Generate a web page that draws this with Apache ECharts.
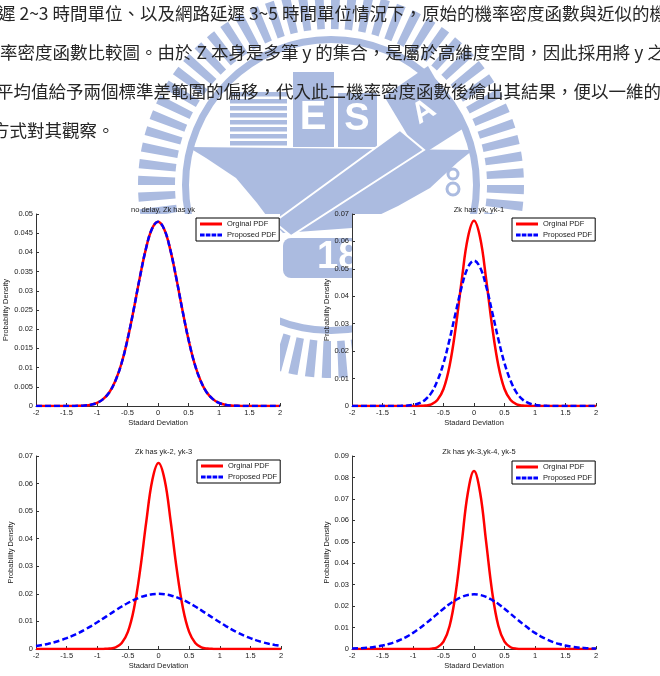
<!DOCTYPE html>
<html>
<head>
<meta charset="utf-8">
<script src="https://cdn.jsdelivr.net/npm/echarts@6/dist/echarts.min.js"></script>
<style>
html, body { margin: 0; padding: 0; background: #fff; }
#wrap { position: relative; width: 660px; height: 676px; }
#bg, #main { position: absolute; left: 0; top: 0; width: 660px; height: 676px; }
</style>
</head>
<body>
<div id="wrap">
  <div id="bg"></div>
  <div id="main"></div>
</div>
<script>
// 橫軸取樣點 (Stadard Deviation)
var xVals = [-2, -1.9, -1.8, -1.7, -1.6, -1.5, -1.4, -1.3, -1.2, -1.1, -1, -0.9, -0.8, -0.7, -0.6, -0.5, -0.4, -0.3, -0.2, -0.1, 0,
  0.1, 0.2, 0.3, 0.4, 0.5, 0.6, 0.7, 0.8, 0.9, 1, 1.1, 1.2, 1.3, 1.4, 1.5, 1.6, 1.7, 1.8, 1.9, 2];

// no delay, Zk has yk
var p1Orig = [0, 0, 0, 0, 0, 0, 0.00002, 0.00005, 0.00013, 0.00034, 0.0008, 0.0018, 0.0035, 0.0065, 0.011, 0.0173, 0.025, 0.0333, 0.0408, 0.0461, 0.048,
  0.0461, 0.0408, 0.0333, 0.025, 0.0173, 0.011, 0.0065, 0.0035, 0.0018, 0.0008, 0.00034, 0.00013, 0.00005, 0.00002, 0, 0, 0, 0, 0, 0];
var p1Prop = [0, 0, 0, 0, 0, 0, 0.00002, 0.00005, 0.00013, 0.00034, 0.0008, 0.0018, 0.0035, 0.0065, 0.011, 0.0173, 0.025, 0.0333, 0.0408, 0.0461, 0.048,
  0.0461, 0.0408, 0.0333, 0.025, 0.0173, 0.011, 0.0065, 0.0035, 0.0018, 0.0008, 0.00034, 0.00013, 0.00005, 0.00002, 0, 0, 0, 0, 0, 0];

// Zk has yk, yk-1
var p2Orig = [0, 0, 0, 0, 0, 0, 0, 0, 0, 0, 0, 0.00003, 0.00015, 0.0006, 0.0022, 0.0062, 0.0147, 0.0286, 0.0461, 0.0614, 0.0675,
  0.0614, 0.0461, 0.0286, 0.0147, 0.0062, 0.0022, 0.0006, 0.00015, 0.00003, 0, 0, 0, 0, 0, 0, 0, 0, 0, 0, 0];
var p2Prop = [0, 0, 0, 0, 0, 0, 0, 0.00001, 0.00005, 0.00014, 0.0004, 0.001, 0.0023, 0.0048, 0.0092, 0.0156, 0.0243, 0.0341, 0.0436, 0.0505, 0.053,
  0.0505, 0.0436, 0.0341, 0.0243, 0.0156, 0.0092, 0.0048, 0.0023, 0.001, 0.0004, 0.00014, 0.00005, 0.00001, 0, 0, 0, 0, 0, 0, 0];

// Zk has yk-2, yk-3
var p3Orig = [0, 0, 0, 0, 0, 0, 0, 0, 0, 0, 0, 0.00003, 0.00015, 0.0006, 0.0022, 0.0062, 0.0147, 0.0286, 0.0461, 0.0614, 0.0675,
  0.0614, 0.0461, 0.0286, 0.0147, 0.0062, 0.0022, 0.0006, 0.00015, 0.00003, 0, 0, 0, 0, 0, 0, 0, 0, 0, 0, 0];
var p3Prop = [0.0011, 0.00146, 0.00191, 0.00246, 0.00313, 0.00392, 0.00483, 0.00588, 0.00705, 0.00832, 0.00969, 0.01112, 0.01257, 0.01402, 0.01541, 0.01669, 0.01781, 0.01874, 0.01943, 0.01986, 0.02,
  0.01986, 0.01943, 0.01874, 0.01781, 0.01669, 0.01541, 0.01402, 0.01257, 0.01112, 0.00969, 0.00832, 0.00705, 0.00588, 0.00483, 0.00392, 0.00313, 0.00246, 0.00191, 0.00146, 0.0011];

// Zk has yk-3,yk-4, yk-5
var p4Orig = [0, 0, 0, 0, 0, 0, 0, 0, 0, 0, 0, 0, 0.00002, 0.00015, 0.0008, 0.0034, 0.0107, 0.0262, 0.0497, 0.073, 0.083,
  0.073, 0.0497, 0.0262, 0.0107, 0.0034, 0.0008, 0.00015, 0.00002, 0, 0, 0, 0, 0, 0, 0, 0, 0, 0, 0, 0];
var p4Prop = [0.0002, 0.0003, 0.0005, 0.0007, 0.0011, 0.0016, 0.0023, 0.0032, 0.0044, 0.0058, 0.0075, 0.0095, 0.0117, 0.014, 0.0164, 0.0188, 0.021, 0.0228, 0.0243, 0.0252, 0.0255,
  0.0252, 0.0243, 0.0228, 0.021, 0.0188, 0.0164, 0.014, 0.0117, 0.0095, 0.0075, 0.0058, 0.0044, 0.0032, 0.0023, 0.0016, 0.0011, 0.0007, 0.0005, 0.0003, 0.0002];

var titles = ['no delay, Zk has yk', 'Zk has yk, yk-1', 'Zk has yk-2, yk-3', 'Zk has yk-3,yk-4, yk-5'];
var yMaxes = [0.05, 0.07, 0.07, 0.09];
var yIntervals = [0.005, 0.01, 0.01, 0.01];
var legendNames = ['Orginal PDF', 'Proposed PDF'];

// 上方內文
var paraLines = [
  '遲 2~3 時間單位、以及網路延遲 3~5 時間單位情況下，原始的機率密度函數與近似的機',
  '率密度函數比較圖。由於 Z 本身是多筆 y 的集合，是屬於高維度空間，因此採用將 y 之',
  '平均值給予兩個標準差範圍的偏移，代入此二機率密度函數後繪出其結果，便以一維的',
  '方式對其觀察。'
];

function pairs(ys) {
  return xVals.map(function (x, i) { return [x, ys[i]]; });
}

var font = 'Liberation Sans, Arial, sans-serif';
var axisColor = '#333';

// 四個子圖的位置
var boxes = [
  { left: 36, top: 214, width: 244, height: 192, yName: 26, legend: [196, 218] },
  { left: 352, top: 214, width: 244, height: 192, yName: 21, legend: [512, 218] },
  { left: 36, top: 456, width: 245, height: 193, yName: 21, legend: [197, 460] },
  { left: 352, top: 456, width: 244, height: 193, yName: 21, legend: [512, 461] }
];
var seriesData = [[p1Orig, p1Prop], [p2Orig, p2Prop], [p3Orig, p3Prop], [p4Orig, p4Prop]];

var grids = [], xAxes = [], yAxes = [], series = [], titleOpts = [], legends = [];

boxes.forEach(function (b, i) {
  grids.push({
    left: b.left, top: b.top, width: b.width, height: b.height,
    show: true, backgroundColor: '#fff', borderWidth: 0
  });
  titleOpts.push({
    text: titles[i],
    left: b.left + b.width / 2,
    top: b.top - 13,
    textAlign: 'center',
    textStyle: { fontSize: 7.5, fontWeight: 'normal', color: '#222', fontFamily: font }
  });
  xAxes.push({
    type: 'value', gridIndex: i, min: -2, max: 2, interval: 0.5,
    showMinLabel: true, showMaxLabel: true,
    name: 'Stadard Deviation', nameLocation: 'middle', nameGap: 13,
    nameTextStyle: { fontSize: 7.5, color: '#222', fontFamily: font },
    axisLine: { onZero: false, lineStyle: { color: axisColor, width: 1 } },
    axisTick: { inside: true, length: 3, lineStyle: { color: axisColor } },
    axisLabel: { fontSize: 7.5, color: '#222', margin: 3, fontFamily: font },
    splitLine: { show: false }
  });
  yAxes.push({
    type: 'value', gridIndex: i, min: 0, max: yMaxes[i], interval: yIntervals[i],
    name: 'Probability Density', nameLocation: 'middle', nameGap: b.yName, nameRotate: 90,
    nameTextStyle: { fontSize: 7.5, color: '#222', fontFamily: font },
    axisLine: { show: true, onZero: false, lineStyle: { color: axisColor, width: 1 } },
    axisTick: { show: true, inside: true, length: 3, lineStyle: { color: axisColor } },
    axisLabel: { fontSize: 7.5, color: '#222', margin: 3, fontFamily: font },
    splitLine: { show: false }
  });
  series.push({
    name: legendNames[0], type: 'line', xAxisIndex: i, yAxisIndex: i,
    data: pairs(seriesData[i][0]), smooth: 0.4, symbol: 'none',
    lineStyle: { color: '#ff0000', width: 2.5 }, itemStyle: { color: '#ff0000' },
    z: 3
  });
  series.push({
    name: legendNames[1], type: 'line', xAxisIndex: i, yAxisIndex: i,
    data: pairs(seriesData[i][1]), smooth: 0.4, symbol: 'none',
    lineStyle: { color: '#0000ff', width: 2.5, type: [6, 3] }, itemStyle: { color: '#0000ff' },
    z: 4
  });
  legends.push({
    data: [
      { name: legendNames[0], icon: 'path://M0,0h22v3h-22z' },
      { name: legendNames[1], icon: 'path://M0,0h4.6v3h-4.6z M5.8,0h4.6v3h-4.6z M11.6,0h4.6v3h-4.6z M17.4,0h4.6v3h-4.6z' }
    ],
    orient: 'vertical', left: b.legend[0], top: b.legend[1],
    itemWidth: 22, itemHeight: 9, itemGap: 3, padding: [2, 3, 2, 4],
    backgroundColor: '#fff', borderColor: '#000', borderWidth: 1,
    textStyle: { fontSize: 7.5, color: '#222', fontFamily: font },
    selectedMode: false
  });
});

// 浮水印 (淡藍色校徽), 放在底層
var wm = '#abbbe0';
var marks = [];
var nStripe = 72;
for (var k = 0; k < nStripe; k++) {
  var a = k * 2 * Math.PI / nStripe;
  marks.push({
    type: 'sector', silent: true,
    shape: { cx: 331, cy: 185, r0: 156, r: 193, startAngle: a, endAngle: a + 0.55 * 2 * Math.PI / nStripe },
    style: { fill: wm }
  });
}
marks.push({ type: 'ring', silent: true, shape: { cx: 331, cy: 185, r0: 142, r: 149 }, style: { fill: wm } });
// 書本
for (var j = 0; j < 8; j++) {
  marks.push({ type: 'rect', silent: true, shape: { x: 230, y: 92 + j * 7, width: 57, height: 4.5 }, style: { fill: wm } });
}
marks.push({ type: 'rect', silent: true, shape: { x: 293, y: 72, width: 41, height: 75 }, style: { fill: wm } });
marks.push({ type: 'text', silent: true, x: 313, y: 118, style: { text: 'E', fill: '#fff', fontSize: 40, fontWeight: 'bold', fontFamily: font, align: 'center', verticalAlign: 'middle' } });
marks.push({ type: 'rect', silent: true, shape: { x: 338, y: 93, width: 39, height: 54 }, style: { fill: wm } });
marks.push({ type: 'text', silent: true, x: 357, y: 120, style: { text: 'S', fill: '#fff', fontSize: 38, fontWeight: 'bold', fontFamily: font, align: 'center', verticalAlign: 'middle' } });
marks.push({ type: 'polygon', silent: true, shape: { points: [[384, 96], [428, 66], [464, 128], [420, 156]] }, style: { fill: wm } });
marks.push({ type: 'text', silent: true, x: 424, y: 112, rotation: 0.55, style: { text: 'A', fill: '#fff', fontSize: 30, fontWeight: 'bold', fontFamily: font, align: 'center', verticalAlign: 'middle' } });
// 鐵砧與鎚柄
marks.push({ type: 'polygon', silent: true, shape: { points: [[188, 147], [473, 150], [458, 162], [430, 188], [398, 206], [352, 228], [283, 233], [266, 215], [257, 203], [236, 178], [206, 158]] }, style: { fill: wm } });
marks.push({ type: 'polygon', silent: true, shape: { points: [[400, 130], [424, 150], [291, 236], [274, 222]] }, style: { fill: wm, stroke: '#fff', lineWidth: 2 } });
marks.push({ type: 'circle', silent: true, shape: { cx: 453, cy: 174, r: 5 }, style: { fill: 'none', stroke: wm, lineWidth: 3 } });
marks.push({ type: 'circle', silent: true, shape: { cx: 453, cy: 189, r: 6 }, style: { fill: 'none', stroke: wm, lineWidth: 3 } });
marks.push({ type: 'rect', silent: true, shape: { x: 283, y: 238, width: 120, height: 40, r: 8 }, style: { fill: wm } });
marks.push({ type: 'text', silent: true, x: 317, y: 258, style: { text: '18', fill: '#fff', fontSize: 38, fontWeight: 'bold', fontFamily: font, align: 'left', verticalAlign: 'middle' } });

var bgChart = echarts.init(document.getElementById('bg'));
bgChart.setOption({ backgroundColor: '#fff', animation: false, graphic: marks });

// 內文
var lineX = [-2, 0, -4, -8];
var lineY = [13, 52, 91, 130];
var texts = paraLines.map(function (t, i) {
  return {
    type: 'text', silent: true, x: lineX[i], y: lineY[i],
    style: { text: t, fill: '#262626', fontSize: 17.5, fontFamily: '"Noto Sans CJK TC", "Noto Sans CJK SC", sans-serif', verticalAlign: 'middle' }
  };
});

var option = {
  backgroundColor: 'transparent',
  animation: false,
  title: titleOpts,
  legend: legends,
  grid: grids,
  xAxis: xAxes,
  yAxis: yAxes,
  series: series,
  graphic: texts
};

var myChart = echarts.init(document.getElementById('main'));
myChart.setOption(option);
</script>
</body>
</html>
